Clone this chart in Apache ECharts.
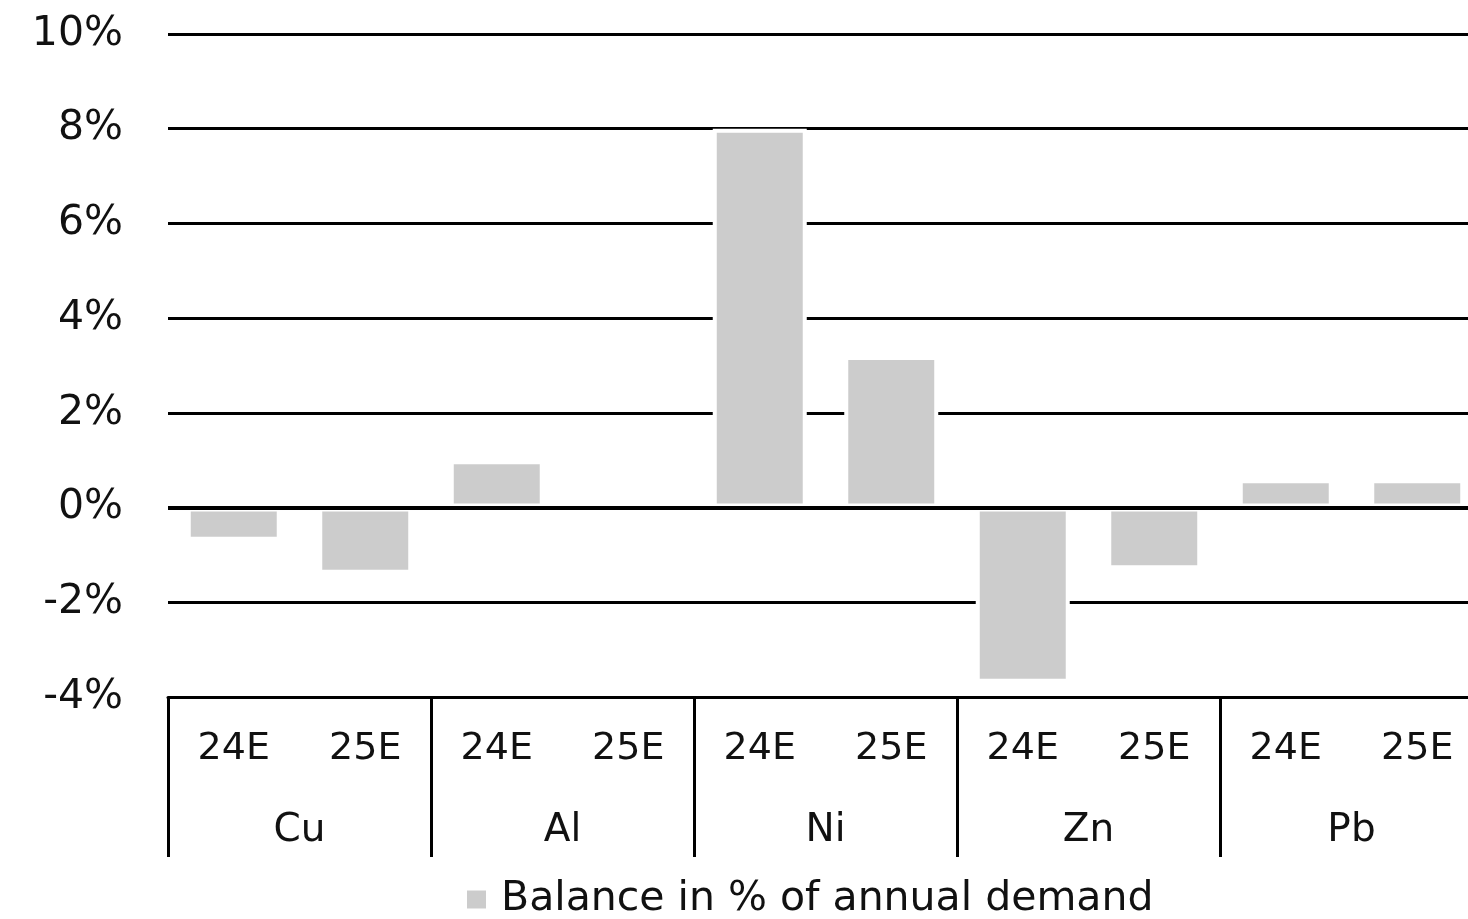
<!DOCTYPE html>
<html>
<head>
<meta charset="utf-8">
<script src="https://cdn.jsdelivr.net/npm/echarts@6/dist/echarts.min.js"></script>
<style>
html,body{margin:0;padding:0;background:#fff;}
#chart{width:1468px;height:919px;}
</style>
</head>
<body>
<div id="chart"></div>
<script>
const years = ['24E','25E','24E','25E','24E','25E','24E','25E','24E','25E'];
const metals = ['Cu','Al','Ni','Zn','Pb'];
const balance = [-0.7, -1.4, 1.0, 0, 8.0, 3.2, -3.7, -1.3, 0.6, 0.6];
const seriesName = 'Balance in % of annual demand';
const yTicks = {min: -4, max: 10, interval: 2};

const FONT = 'DejaVu Sans';
const TXT = '#111';
const chart = echarts.init(document.getElementById('chart'), null, {renderer: 'canvas'});
chart.setOption({
  animation: false,
  backgroundColor: '#ffffff',
  textStyle: {fontFamily: FONT, color: TXT},
  legend: {
    data: [seriesName],
    left: 465,
    top: 879,
    padding: 0,
    icon: 'rect',
    itemWidth: 21,
    itemHeight: 20,
    textStyle: {fontFamily: FONT, fontSize: 41, color: TXT, padding: [0, 0, 0, 9]}
  },
  grid: {left: 168, top: 34, width: 1315, height: 663, outerBoundsMode: 'none', containLabel: false},
  xAxis: [
    {
      type: 'category',
      data: years,
      position: 'bottom',
      axisLine: {show: true, onZero: false, lineStyle: {color: '#000', width: 3}},
      axisTick: {show: false},
      axisLabel: {fontFamily: FONT, fontSize: 38, color: TXT, margin: 33, interval: 0}
    },
    {
      type: 'category',
      data: metals,
      position: 'bottom',
      gridIndex: 0,
      axisLine: {show: false, onZero: false},
      axisTick: {show: true, length: 160, interval: 0, lineStyle: {color: '#000', width: 3}},
      axisLabel: {fontFamily: FONT, fontSize: 39, color: TXT, margin: 114, interval: 0}
    }
  ],
  yAxis: {
    type: 'value',
    min: yTicks.min,
    max: yTicks.max,
    interval: yTicks.interval,
    axisLine: {show: false},
    axisTick: {show: false},
    axisLabel: {fontFamily: FONT, fontSize: 41, color: TXT, margin: 45, formatter: '{value}%'},
    splitLine: {show: true, lineStyle: {color: '#000', width: 3}}
  },
  series: [
    {
      name: seriesName,
      type: 'bar',
      xAxisIndex: 0,
      data: balance,
      barWidth: 94,
      itemStyle: {color: '#cccccc', borderColor: '#ffffff', borderWidth: 4},
      markLine: {
        silent: true,
        symbol: 'none',
        label: {show: false},
        lineStyle: {color: '#000', width: 4, type: 'solid'},
        data: [{yAxis: 0}]
      }
    }
  ]
});
</script>
</body>
</html>
